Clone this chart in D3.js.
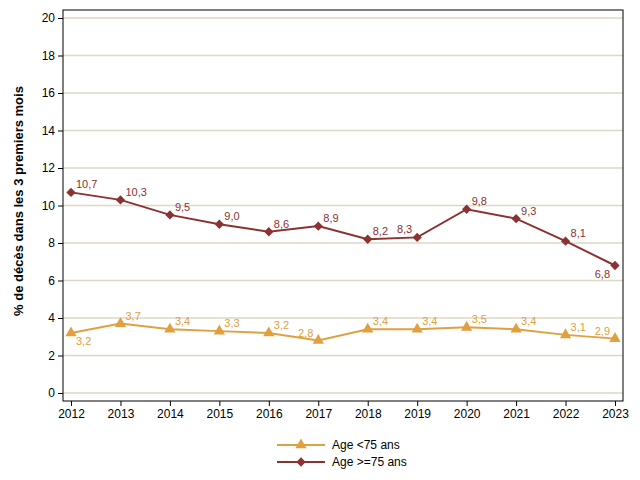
<!DOCTYPE html>
<html>
<head>
<meta charset="utf-8">
<script src="https://cdn.jsdelivr.net/npm/d3@7"></script>
<style>
  body { margin: 0; background: #fff; }
  text { font-family: "Liberation Sans", Arial, sans-serif; }
</style>
</head>
<body>
<div id="chart"></div>
<script>
const years = [2012, 2013, 2014, 2015, 2016, 2017, 2018, 2019, 2020, 2021, 2022, 2023];
const under75 = [3.2, 3.7, 3.4, 3.3, 3.2, 2.8, 3.4, 3.4, 3.5, 3.4, 3.1, 2.9];
const over75 = [10.7, 10.3, 9.5, 9.0, 8.6, 8.9, 8.2, 8.3, 9.8, 9.3, 8.1, 6.8];
const yTicks = [0, 2, 4, 6, 8, 10, 12, 14, 16, 18, 20];
const seriesNames = ['Age <75 ans', 'Age >=75 ans'];

// label placement per point (ne = above right, se = below right, nw, sw)
const placeUnder = ['se', 'ne', 'ne', 'ne', 'ne', 'nw', 'ne', 'ne', 'ne', 'ne', 'ne', 'nw'];
const placeOver = ['ne', 'ne', 'ne', 'ne', 'ne', 'ne', 'ne', 'nw', 'ne', 'ne', 'ne', 'sw'];

const width = 640, height = 480;
const frame = { left: 63, right: 623, top: 10, bottom: 401 };

const svg = d3.select('#chart').append('svg')
    .attr('width', width)
    .attr('height', height);

const x = d3.scaleLinear().domain([2012, 2023]).range([71, 615]);
const y = d3.scaleLinear().domain([0, 20]).range([393, 18]);

// gridlines
svg.append('g')
    .selectAll('line')
    .data(yTicks)
    .enter()
    .append('line')
    .attr('x1', frame.left)
    .attr('x2', frame.right)
    .attr('y1', d => y(d))
    .attr('y2', d => y(d))
    .attr('stroke', '#dcd8c4')
    .attr('stroke-width', 1.3);

// frame
svg.append('rect')
    .attr('x', frame.left)
    .attr('y', frame.top)
    .attr('width', frame.right - frame.left)
    .attr('height', frame.bottom - frame.top)
    .attr('fill', 'none')
    .attr('stroke', '#000')
    .attr('stroke-width', 1);

// y axis
const yAxis = svg.append('g')
    .attr('transform', `translate(${frame.left},0)`)
    .call(d3.axisLeft(y).tickValues(yTicks).tickSize(5).tickPadding(3));
yAxis.select('.domain').remove();
yAxis.selectAll('text').attr('font-size', 12).attr('fill', '#000');

// x axis
const xAxis = svg.append('g')
    .attr('transform', `translate(0,${frame.bottom})`)
    .call(d3.axisBottom(x).tickValues(years).tickFormat(d3.format('d')).tickSize(5).tickPadding(3));
xAxis.select('.domain').remove();
xAxis.selectAll('text').attr('font-size', 12).attr('fill', '#000');

// y title
svg.append('text')
    .attr('transform', 'translate(23,201) rotate(-90)')
    .attr('text-anchor', 'middle')
    .attr('font-size', 13)
    .attr('font-weight', 'bold')
    .text('% de décès dans les 3 premiers mois');

const fmt = v => d3.format('.1f')(v).replace('.', ',');

const line = d3.line()
    .x((d, i) => x(years[i]))
    .y(d => y(d));

const series = [
    { name: seriesNames[0], values: under75, color: '#E0A040', symbol: d3.symbolTriangle, size: 55, place: placeUnder },
    { name: seriesNames[1], values: over75, color: '#8B3232', symbol: d3.symbolDiamond2, size: 55, place: placeOver }
];

series.forEach(s => {
    svg.append('path')
        .datum(s.values)
        .attr('d', line)
        .attr('fill', 'none')
        .attr('stroke', s.color)
        .attr('stroke-width', 2);

    svg.append('g')
        .selectAll('path')
        .data(s.values)
        .enter()
        .append('path')
        .attr('d', d3.symbol().type(s.symbol).size(s.size))
        .attr('transform', (d, i) => `translate(${x(years[i])},${y(d)})`)
        .attr('fill', s.color);

    svg.append('g')
        .selectAll('text')
        .data(s.values)
        .enter()
        .append('text')
        .attr('x', (d, i) => x(years[i]) + (s.place[i].endsWith('e') ? 5 : -5))
        .attr('y', (d, i) => y(d) + (s.place[i].startsWith('n') ? -4 : 12))
        .attr('text-anchor', (d, i) => s.place[i].endsWith('e') ? 'start' : 'end')
        .attr('font-size', 11)
        .attr('fill', s.color)
        .text(d => fmt(d));
});

// legend
const legend = svg.append('g');
series.forEach((s, i) => {
    const ly = 445 + i * 17;
    legend.append('line')
        .attr('x1', 277).attr('x2', 325)
        .attr('y1', ly).attr('y2', ly)
        .attr('stroke', s.color)
        .attr('stroke-width', 2);
    legend.append('path')
        .attr('d', d3.symbol().type(s.symbol).size(s.size))
        .attr('transform', `translate(301,${ly})`)
        .attr('fill', s.color);
    legend.append('text')
        .attr('x', 332)
        .attr('y', ly + 4)
        .attr('font-size', 12)
        .attr('fill', '#000')
        .text(s.name);
});
</script>
</body>
</html>
